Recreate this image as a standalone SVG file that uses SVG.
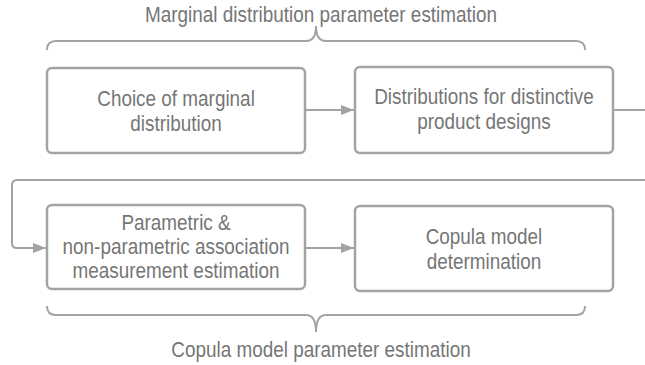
<svg xmlns="http://www.w3.org/2000/svg" width="645" height="365" viewBox="0 0 645 365">
  <style>
    .box { fill: #ffffff; stroke: #a3a3a3; stroke-width: 2.5; }
    .conn { fill: none; stroke: #a3a3a3; stroke-width: 2; }
    .brace { fill: none; stroke: #a3a3a3; stroke-width: 2; }
    text { font-family: "Liberation Sans", Arial, sans-serif; font-size: 22px; fill: #767676; text-anchor: middle; }
  </style>
  <defs>
    <marker id="arrow" markerWidth="14" markerHeight="12" refX="13" refY="6" orient="auto" markerUnits="userSpaceOnUse">
      <path d="M0,1 L13,6 L0,11 Z" fill="#a3a3a3"/>
    </marker>
  </defs>
  <rect width="645" height="365" fill="#ffffff"/>

  <!-- braces -->
  <g id="top-brace">
    <path class="brace" d="M47,50 Q47,41 56,41 L306,41 Q316,41 316,26 Q316,41 326,41 L576,41 Q585,41 585,50"/>
  </g>
  <g id="bottom-brace">
    <path class="brace" d="M47,306 Q47,315 56,315 L306,315 Q316,315 316,332 Q316,315 326,315 L576,315 Q585,315 585,306"/>
  </g>

  <!-- connectors -->
  <g id="connectors">
    <path class="conn" d="M305,110 L354,110" marker-end="url(#arrow)"/>
    <path class="conn" d="M613,110 L645,110"/>
    <path class="conn" d="M645,180 L17,180 Q12,180 12,185 L12,243 Q12,248 17,248 L46,248" marker-end="url(#arrow)"/>
    <path class="conn" d="M305,248 L354,248" marker-end="url(#arrow)"/>
  </g>

  <g id="choice-marginal">
    <rect class="box" x="47" y="68" width="258" height="85" rx="5"/>
  </g>
  <g id="distributions-designs">
    <rect class="box" x="355" y="67" width="258" height="86" rx="5"/>
  </g>
  <g id="association-estimation">
    <rect class="box" x="47" y="205" width="258" height="84" rx="5"/>
  </g>
  <g id="copula-determination">
    <rect class="box" x="355" y="206" width="258" height="85" rx="5"/>
  </g>

  <!-- labels, set in a narrowed face: x positions are divided by the 0.86 squeeze -->
  <g id="labels" transform="scale(0.86,1)">
    <text x="373.3" y="22">Marginal distribution parameter estimation</text>
    <text x="373.3" y="357">Copula model parameter estimation</text>
    <text x="204.7" y="106">Choice of marginal</text>
    <text x="204.7" y="131">distribution</text>
    <text x="562.8" y="104">Distributions for distinctive</text>
    <text x="562.8" y="129">product designs</text>
    <text x="204.7" y="230">Parametric &amp;</text>
    <text x="204.7" y="254">non-parametric association</text>
    <text x="204.7" y="278">measurement estimation</text>
    <text x="562.8" y="244">Copula model</text>
    <text x="562.8" y="269">determination</text>
  </g>
</svg>
